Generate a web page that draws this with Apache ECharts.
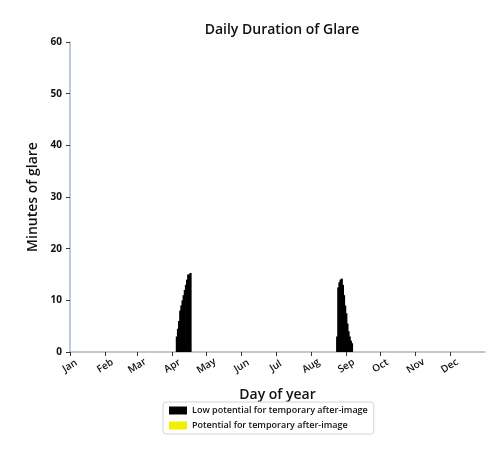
<!DOCTYPE html>
<html>
<head>
<meta charset="utf-8">
<script src="https://cdn.jsdelivr.net/npm/echarts@6/dist/echarts.min.js"></script>
<style>
  html, body { margin: 0; padding: 0; background: #fff; }
  #glare { width: 489px; height: 452px; }
</style>
</head>
<body>
<div id="glare"></div>
<script>
// month labels and the day of year each month starts on
var months = ['Jan', 'Feb', 'Mar', 'Apr', 'May', 'Jun', 'Jul', 'Aug', 'Sep', 'Oct', 'Nov', 'Dec'];
var monthStarts = [1, 32, 60, 91, 121, 152, 182, 213, 244, 274, 305, 335];

// minutes of glare per day (day of year, minutes)
var springDays = [95, 96, 97, 98, 99, 100, 101, 102, 103, 104, 105, 106, 107];
var springMinutes = [3, 4.5, 6, 8, 9, 10, 11, 12, 13, 14, 15, 15, 15.3];
var autumnDays = [236, 237, 238, 239, 240, 241, 242, 243, 244, 245, 246, 247, 248, 249];
var autumnMinutes = [3, 12.5, 13.5, 14, 14.2, 13, 11, 9, 7.5, 5.5, 4, 3, 2.2, 1.7];

// no days with potential for after-image
var afterImage = [];

var yTicks = [0, 10, 20, 30, 40, 50, 60];

var lowPotential = [];
springDays.forEach(function(d, i) { lowPotential.push([d, springMinutes[i]]); });
autumnDays.forEach(function(d, i) { lowPotential.push([d, autumnMinutes[i]]); });

var myChart = echarts.init(document.getElementById('glare'));
var font = '"Open Sans", "DejaVu Sans", sans-serif';

option = {
    animation: false,
    textStyle: { fontFamily: font },
    title: {
        text: 'Daily Duration of Glare',
        left: 277,
        textAlign: 'center',
        top: 18,
        textStyle: { fontSize: 14, fontWeight: 600, color: '#111', fontFamily: font }
    },
    grid: { left: 70, right: 4, top: 42, bottom: 100 },
    legend: {
        orient: 'vertical',
        left: 163,
        top: 402,
        itemWidth: 18,
        itemHeight: 8,
        itemGap: 6,
        icon: 'rect',
        padding: [4, 6],
        borderColor: '#d4d4d4',
        borderWidth: 1,
        borderRadius: 3,
        textStyle: { fontSize: 9, fontWeight: 600, color: '#111', fontFamily: font },
        data: ['Low potential for temporary after-image', 'Potential for temporary after-image']
    },
    xAxis: {
        type: 'value',
        min: 1,
        max: 366,
        name: 'Day of year',
        nameLocation: 'middle',
        nameGap: 36,
        nameTextStyle: { fontSize: 14, fontWeight: 600, color: '#111', fontFamily: font },
        splitLine: { show: false },
        axisLine: { lineStyle: { color: '#a9b8cc', width: 1.5 } },
        axisTick: { customValues: monthStarts, length: 4, lineStyle: { color: '#333' } },
        axisLabel: {
            customValues: monthStarts,
            formatter: function(v) { return months[monthStarts.indexOf(v)]; },
            rotate: 32,
            align: 'center',
            verticalAlign: 'middle',
            margin: 14,
            fontSize: 10,
            fontWeight: 600,
            color: '#111',
            fontFamily: font
        }
    },
    yAxis: {
        type: 'value',
        min: 0,
        max: 60,
        interval: 10,
        name: 'Minutes of glare',
        nameLocation: 'middle',
        nameGap: 30,
        nameTextStyle: { fontSize: 14, fontWeight: 600, color: '#111', fontFamily: font },
        splitLine: { show: false },
        axisLine: { show: true, lineStyle: { color: '#a9b8cc', width: 1.5 } },
        axisTick: { show: true, length: 4, lineStyle: { color: '#333' } },
        axisLabel: {
            fontSize: 10,
            fontWeight: 'bold',
            color: '#111',
            fontFamily: font,
            formatter: function(v) { return yTicks.indexOf(v) >= 0 ? v : ''; }
        }
    },
    series: [{
        name: 'Low potential for temporary after-image',
        type: 'bar',
        stack: 'glare',
        barWidth: 2.2,
        itemStyle: { color: '#000' },
        data: lowPotential
    }, {
        name: 'Potential for temporary after-image',
        type: 'bar',
        stack: 'glare',
        barWidth: 2.2,
        itemStyle: { color: '#f2ef00' },
        data: afterImage
    }]
};

myChart.setOption(option);
</script>
</body>
</html>
